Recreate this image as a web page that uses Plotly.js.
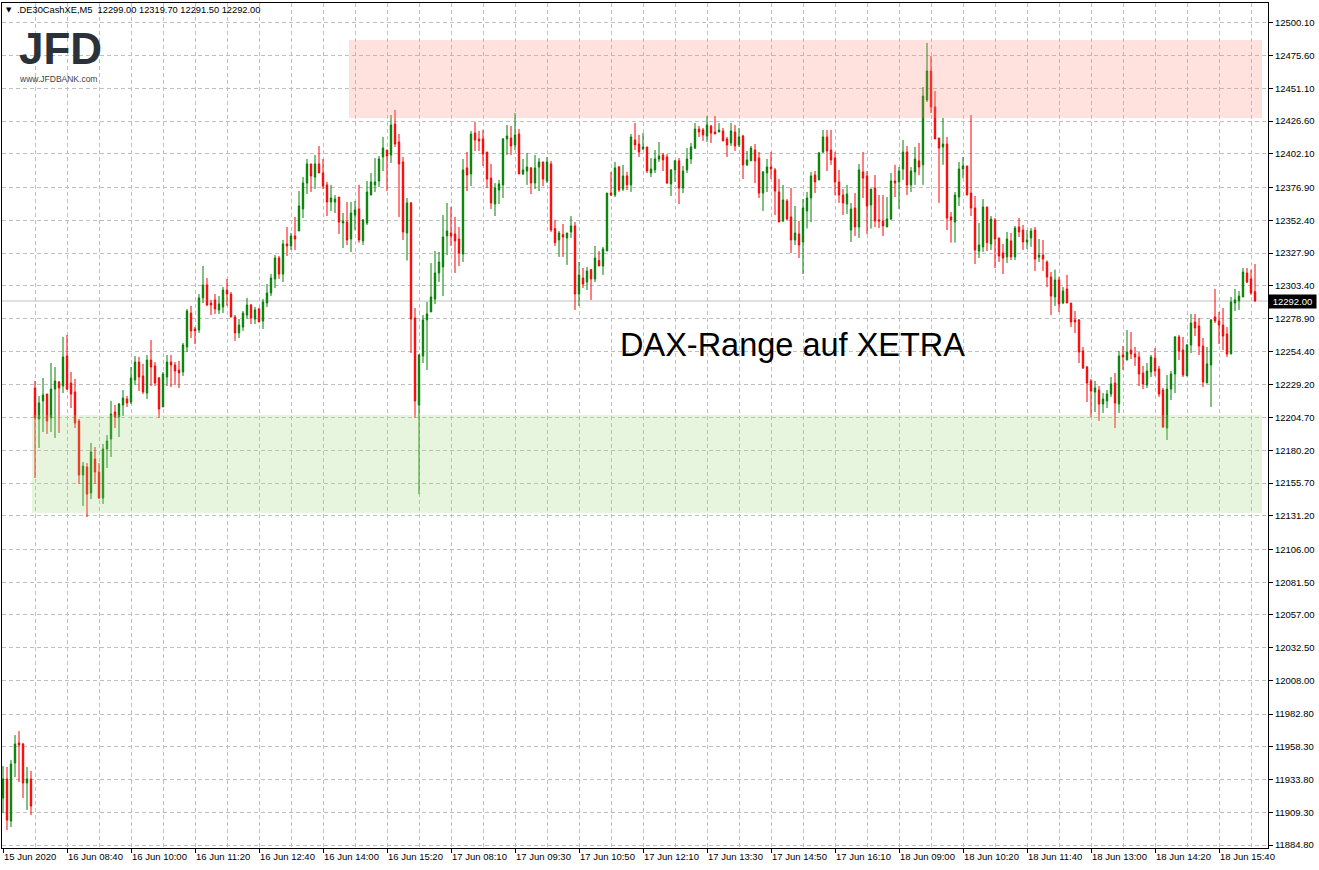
<!DOCTYPE html>
<html>
<head>
<meta charset="utf-8">
<script src="https://cdn.plot.ly/plotly-3.0.1.min.js"></script>
<style>html,body{margin:0;padding:0;background:#fff;}#chart{width:1319px;height:870px;}</style>
</head>
<body>
<div id="chart"></div>
<script>
// OHLC values of the M5 bars
const openP = [
11920.0,11934.2,11902.8,11946.2,11961.2,11960.4,11931.2,11934.2,
12226.9,12203.7,12217.2,12222.4,12204.4,12226.1,12231.4,12228.4,12250.8,12230.6,12223.9,12202.2,
12161.8,12167.8,12148.3,12173.7,12164.0,12144.5,12181.2,12188.7,12208.9,12205.2,
12214.2,12218.6,12216.4,12232.9,12246.3,12235.9,12223.1,12247.8,12243.4,12234.4,
12212.7,12235.1,12246.3,12244.1,12240.4,12238.9,12257.6,12283.0,12271.0,12270.3,
12294.3,12304.0,12290.5,12292.8,12285.3,12287.5,12300.2,12297.2,12280.0,12268.1,
12272.5,12281.5,12289.0,12278.5,12286.0,12277.0,12290.5,12298.0,12308.5,12324.2,
12312.2,12334.7,12333.2,12340.7,12344.4,12360.9,12380.3,12394.6,12384.8,12394.6,
12387.8,12378.9,12366.1,12366.1,12369.8,12350.4,12351.1,12338.4,12356.4,12360.9,
12337.0,12350.4,12371.3,12378.9,12381.8,12399.8,12405.0,12401.3,12424.5,12411.0,
12396.1,12342.9,12365.4,12279.3,12214.2,12250.8,12277.8,12283.8,12293.5,12313.0,
12317.5,12340.7,12342.9,12342.2,12338.4,12327.2,12391.6,12387.1,12417.7,12413.3,
12413.3,12403.5,12384.0,12364.6,12375.1,12378.9,12413.3,12414.0,12408.8,12417.0,
12387.1,12389.3,12391.6,12380.3,12392.3,12396.1,12381.8,12394.6,12346.2,12337.7,
12341.7,12339.2,12343.7,12348.2,12297.2,12309.2,12306.2,12315.5,12308.5,12322.3,
12318.2,12329.4,12372.8,12371.3,12392.3,12375.8,12385.6,12378.9,12412.5,12409.5,
12405.8,12407.3,12387.8,12390.1,12398.3,12401.3,12399.8,12379.6,12390.1,12396.9,
12376.6,12390.1,12398.3,12406.5,12420.7,12420.0,12415.5,12423.0,12418.5,12418.5,
12419.3,12413.3,12410.3,12418.5,12408.8,12415.5,12393.9,12396.9,12405.0,12399.0,
12372.8,12387.8,12392.3,12390.1,12373.6,12351.9,12366.9,12354.9,12337.7,12342.2,
12336.2,12359.4,12369.1,12386.3,12382.6,12403.5,12414.8,12405.0,12399.0,12381.1,
12371.3,12364.6,12345.1,12361.6,12347.4,12388.6,12385.6,12363.9,12376.6,12352.7,
12351.9,12347.4,12353.4,12381.8,12381.1,12390.8,12403.5,12378.9,12388.6,12396.9,
12393.9,12442.5,12464.2,12437.2,12414.0,12407.3,12409.5,12354.9,12351.1,12369.8,
12390.8,12393.1,12372.8,12361.6,12329.4,12332.5,12362.4,12334.7,12352.7,12339.2,
12328.0,12325.0,12337.0,12325.0,12347.4,12345.1,12336.2,12339.2,12345.1,12324.9,
12326.4,12321.2,12310.0,12295.0,12307.7,12290.5,12301.0,12290.5,12277.8,12277.8,
12254.6,12242.6,12232.1,12223.9,12225.4,12214.9,12217.2,12222.4,12230.6,12214.9,
12251.6,12247.8,12255.3,12252.3,12250.1,12238.1,12229.1,12238.9,12249.3,12241.1,
12225.4,12196.9,12226.1,12237.4,12265.1,12255.3,12235.9,12259.1,12276.3,12273.3,
12258.3,12230.6,12244.1,12280.0,12277.0,12274.0,12267.3,12252.3,12290.5,12292.0,
12295.0,12313.0,12308.5,12299.0
];
const highP = [
11943.9,11943.2,11948.4,11967.1,11970.1,11961.2,11943.2,11940.2,
12232.1,12220.9,12234.4,12222.4,12245.6,12242.6,12232.1,12265.1,12266.6,12238.9,12233.6,12203.7,
12171.5,12170.7,12185.7,12182.7,12170.7,12185.0,12191.7,12217.2,12214.2,12215.7,
12225.4,12220.9,12242.6,12250.8,12250.1,12244.9,12251.6,12262.8,12246.3,12235.1,
12238.9,12251.6,12251.6,12246.3,12247.1,12260.6,12286.0,12288.3,12272.5,12297.2,
12318.2,12309.2,12292.8,12297.2,12295.7,12302.5,12308.5,12298.7,12281.5,12278.5,
12284.5,12294.3,12289.8,12287.5,12286.8,12293.5,12304.7,12312.2,12326.4,12325.7,
12337.7,12347.4,12342.9,12354.9,12374.3,12384.8,12398.3,12394.6,12401.3,12408.0,
12398.3,12381.1,12378.9,12371.3,12369.8,12357.9,12366.1,12366.1,12366.9,12378.9,
12353.4,12381.8,12387.8,12399.0,12400.5,12414.8,12405.0,12431.2,12435.0,12417.0,
12399.8,12369.1,12366.1,12286.8,12252.3,12281.5,12291.3,12320.4,12329.4,12328.7,
12356.4,12365.4,12362.4,12354.9,12347.4,12398.3,12403.5,12419.3,12426.0,12419.3,
12420.0,12403.5,12394.6,12380.3,12382.6,12414.0,12423.7,12423.0,12432.7,12420.7,
12398.3,12402.8,12392.3,12401.3,12399.0,12396.1,12399.8,12396.9,12352.7,12344.4,
12349.6,12342.9,12355.6,12351.1,12321.2,12316.7,12317.5,12315.5,12333.2,12329.4,
12332.5,12372.8,12388.6,12396.1,12393.1,12393.9,12388.6,12417.0,12425.2,12416.3,
12417.7,12407.3,12399.0,12405.0,12411.0,12402.8,12402.0,12390.8,12397.6,12399.0,
12393.1,12406.5,12410.3,12425.2,12423.0,12421.5,12430.5,12423.7,12430.5,12425.2,
12421.5,12414.8,12425.2,12423.7,12421.5,12416.3,12404.3,12408.0,12409.5,12403.5,
12389.3,12398.3,12403.5,12391.6,12383.3,12378.9,12368.3,12376.6,12363.1,12351.9,
12368.3,12373.6,12388.6,12389.3,12403.5,12420.0,12420.0,12420.0,12403.5,12390.1,
12375.8,12378.9,12365.4,12372.8,12394.6,12403.5,12389.3,12375.8,12386.3,12371.3,
12371.3,12369.8,12387.8,12393.9,12392.3,12412.5,12408.0,12392.3,12407.3,12410.3,
12452.2,12485.1,12475.4,12449.2,12414.0,12429.0,12414.8,12358.6,12373.6,12396.1,
12399.8,12393.1,12431.2,12370.6,12350.4,12368.3,12362.4,12355.6,12354.1,12339.2,
12334.7,12343.7,12342.9,12348.2,12354.1,12348.9,12345.1,12346.6,12347.4,12338.4,
12337.7,12322.3,12313.7,12315.5,12310.0,12302.5,12311.5,12290.5,12284.5,12278.5,
12257.6,12243.4,12233.6,12232.1,12228.4,12223.1,12225.4,12235.1,12238.1,12254.6,
12258.3,12270.3,12268.8,12257.6,12253.8,12243.4,12245.6,12251.6,12256.8,12243.4,
12226.9,12236.6,12239.6,12265.8,12266.6,12265.1,12259.8,12282.3,12282.3,12279.3,
12264.3,12257.6,12278.5,12301.0,12283.8,12286.8,12272.5,12295.0,12301.0,12299.5,
12316.7,12316.7,12315.5,12319.7
];
const lowP = [
11908.8,11896.0,11898.3,11935.7,11932.0,11920.0,11911.0,11907.3,
12159.5,12182.0,12194.0,12192.5,12194.0,12189.5,12193.2,12223.1,12225.4,12211.9,12196.9,12155.0,
12138.6,12130.3,12143.8,12155.0,12143.8,12140.1,12167.0,12175.2,12196.9,12190.2,
12205.9,12212.7,12214.9,12229.1,12224.6,12222.4,12218.6,12228.4,12228.4,12204.4,
12212.7,12228.4,12227.6,12229.1,12226.9,12235.9,12253.8,12264.3,12259.8,12268.1,
12290.5,12288.3,12281.5,12282.3,12282.3,12283.0,12288.3,12280.0,12262.1,12264.3,
12269.6,12278.5,12274.8,12274.8,12276.3,12271.0,12287.5,12295.7,12301.7,12308.5,
12306.2,12325.7,12330.2,12330.2,12344.4,12354.1,12372.1,12373.6,12375.8,12387.8,
12375.8,12355.6,12359.4,12357.9,12342.2,12331.7,12333.9,12328.7,12345.1,12335.7,
12333.9,12348.9,12371.3,12373.6,12377.3,12389.3,12374.3,12395.3,12407.3,12354.9,
12337.7,12322.3,12253.1,12204.4,12147.5,12245.6,12240.4,12283.8,12289.8,12306.2,
12295.7,12326.4,12333.2,12313.0,12318.2,12321.2,12374.3,12378.1,12404.3,12404.3,
12393.1,12376.6,12360.9,12355.6,12364.6,12369.1,12401.3,12401.3,12405.0,12387.1,
12386.3,12378.9,12372.1,12375.8,12374.3,12378.1,12380.3,12343.7,12333.2,12325.0,
12325.0,12319.0,12339.2,12285.3,12288.3,12301.7,12300.2,12292.8,12306.2,12318.2,
12311.5,12329.4,12370.6,12369.8,12373.6,12374.3,12375.1,12373.6,12405.0,12399.8,
12405.0,12387.8,12384.8,12387.8,12396.1,12389.3,12379.6,12370.6,12381.1,12364.6,
12372.8,12387.8,12394.6,12405.8,12414.8,12411.8,12411.0,12410.3,12417.0,12418.5,
12411.8,12399.8,12408.0,12404.3,12407.3,12383.3,12393.1,12396.9,12380.3,12369.1,
12359.4,12373.6,12383.3,12356.4,12351.1,12351.1,12352.7,12328.0,12333.9,12324.2,
12312.2,12346.2,12351.1,12372.8,12382.6,12402.8,12389.3,12393.9,12371.3,12365.4,
12356.4,12357.1,12336.2,12340.7,12339.2,12369.1,12342.2,12346.2,12347.4,12346.6,
12340.7,12347.4,12352.7,12369.8,12360.9,12382.6,12371.3,12373.6,12378.9,12386.3,
12378.9,12441.0,12432.7,12413.3,12365.4,12393.9,12345.1,12335.7,12335.7,12363.1,
12384.0,12371.3,12355.6,12319.7,12324.2,12328.7,12329.4,12330.2,12316.7,12321.2,
12312.2,12320.4,12322.7,12322.7,12339.9,12330.2,12331.0,12332.5,12314.5,12321.2,
12314.5,12302.5,12281.5,12288.3,12283.8,12289.8,12290.5,12272.5,12268.1,12245.6,
12241.1,12216.4,12205.2,12208.9,12202.2,12208.2,12211.9,12220.2,12196.9,12208.2,
12240.4,12247.8,12248.6,12243.4,12228.4,12226.1,12226.9,12235.1,12235.9,12220.2,
12196.9,12188.0,12217.9,12223.1,12247.8,12235.1,12235.9,12253.1,12265.8,12251.6,
12227.6,12230.6,12212.7,12275.5,12259.8,12255.3,12250.1,12252.3,12284.5,12285.3,
12295.0,12305.5,12296.4,12291.5
];
const closeP = [
11934.2,11903.5,11945.4,11960.4,11959.7,11931.2,11934.2,11914.0,
12204.4,12215.7,12221.6,12202.2,12226.1,12232.1,12226.9,12250.1,12226.1,12222.4,12200.7,12161.8,
12168.5,12147.5,12179.0,12164.0,12144.5,12181.2,12187.2,12207.4,12205.2,12214.9,
12219.4,12215.7,12234.4,12246.3,12235.1,12223.9,12247.8,12242.6,12230.6,12211.2,
12237.4,12246.3,12244.1,12239.6,12238.1,12259.1,12284.5,12269.6,12269.6,12294.3,
12304.0,12289.0,12289.0,12286.0,12289.8,12300.2,12297.2,12280.0,12268.1,12274.0,
12283.0,12289.0,12279.3,12285.3,12276.3,12291.3,12298.0,12309.2,12324.2,12312.2,
12334.7,12333.2,12340.7,12338.4,12363.1,12380.3,12394.6,12385.6,12394.6,12387.8,
12378.1,12366.1,12369.1,12368.3,12351.1,12351.9,12337.7,12357.9,12360.1,12337.7,
12352.7,12373.6,12381.1,12381.1,12398.3,12406.5,12400.5,12423.7,12409.5,12394.6,
12343.7,12365.4,12278.5,12217.2,12251.6,12277.8,12282.3,12295.0,12313.0,12321.2,
12339.9,12344.4,12340.7,12337.0,12328.0,12390.1,12386.3,12417.0,12412.5,12411.8,
12402.0,12383.3,12365.4,12376.6,12379.6,12413.3,12415.5,12408.0,12416.3,12387.1,
12390.1,12392.3,12380.3,12391.6,12396.1,12383.3,12396.1,12345.1,12335.7,12342.9,
12339.9,12342.9,12348.2,12297.2,12311.5,12304.7,12314.5,12308.5,12324.2,12318.2,
12331.0,12372.8,12371.3,12391.6,12375.1,12385.6,12378.9,12414.8,12408.8,12403.5,
12407.3,12389.3,12390.8,12398.3,12400.5,12397.6,12380.3,12390.1,12396.9,12376.6,
12389.3,12398.3,12407.3,12420.7,12418.5,12416.3,12423.7,12417.7,12417.0,12420.0,
12411.8,12408.8,12419.3,12408.0,12414.8,12393.9,12397.6,12406.5,12396.9,12372.8,
12388.6,12392.3,12390.8,12374.3,12351.1,12367.6,12353.4,12337.7,12342.9,12333.9,
12361.6,12369.1,12385.6,12381.1,12402.8,12414.8,12404.3,12397.6,12381.1,12371.3,
12365.4,12372.1,12360.9,12347.4,12390.1,12384.0,12363.1,12375.8,12351.9,12351.9,
12348.2,12353.4,12381.8,12380.3,12389.3,12403.5,12378.9,12389.3,12398.3,12392.3,
12445.4,12464.2,12437.2,12413.3,12406.5,12409.5,12354.1,12352.7,12371.3,12390.8,
12393.1,12371.3,12361.6,12330.2,12333.9,12362.4,12335.7,12353.4,12338.4,12325.7,
12324.2,12338.4,12325.0,12346.6,12343.7,12336.2,12337.7,12344.4,12323.4,12326.4,
12323.4,12310.0,12295.7,12307.7,12289.8,12299.5,12290.5,12276.3,12276.3,12253.8,
12241.9,12230.6,12224.6,12226.9,12214.9,12218.6,12222.4,12229.9,12215.7,12250.8,
12250.1,12253.8,12252.3,12250.1,12237.4,12229.9,12239.6,12250.1,12239.6,12222.4,
12197.7,12226.1,12237.4,12265.1,12254.6,12236.6,12259.1,12275.5,12271.8,12258.3,
12231.4,12244.9,12277.8,12277.0,12274.0,12265.8,12252.3,12291.3,12292.8,12295.7,
12313.7,12306.2,12298.0,12292.0
];
// time-axis labels, one every 16 bars
const timeLabels = ['15 Jun 2020','16 Jun 08:40','16 Jun 10:00','16 Jun 11:20','16 Jun 12:40',
  '16 Jun 14:00','16 Jun 15:20','17 Jun 08:10','17 Jun 09:30','17 Jun 10:50','17 Jun 12:10',
  '17 Jun 13:30','17 Jun 14:50','17 Jun 16:10','18 Jun 09:00','18 Jun 10:20','18 Jun 11:40',
  '18 Jun 13:00','18 Jun 14:20','18 Jun 15:40'];
// price-axis labels
const priceTicks = [12500.10,12475.60,12451.10,12426.60,12402.10,12376.90,12352.40,12327.90,
  12303.40,12278.90,12254.40,12229.20,12204.70,12180.20,12155.70,12131.20,12106.00,12081.50,
  12057.00,12032.50,12008.00,11982.80,11958.30,11933.80,11909.30,11884.80];
const lastPrice = 12292.00;
const headerText = '.DE30CashXE,M5\u00a0\u00a012299.00 12319.70 12291.50 12292.00';
// zones: [from bar, to bar], [low price, high price]
const resistanceBars = [86.5, 314.75];
const resistancePrices = [12429.0, 12487.4];
const supportBars = [7.25, 314.75];
const supportPrices = [12133.3, 12206.7];

const barIndex = openP.map((_, i) => i);
const labelPos = timeLabels.map((_, k) => k * 16);

const gridCol = '#c0c0c0';
const font = 'Liberation Sans, Arial, sans-serif';

const trace = {
  type: 'candlestick',
  x: barIndex, open: openP, high: highP, low: lowP, close: closeP,
  increasing: {line: {color: '#008000', width: 1}, fillcolor: '#008000'},
  decreasing: {line: {color: '#ff0000', width: 1}, fillcolor: '#ff0000'},
  whiskerwidth: 0,
  hoverinfo: 'skip'
};

const layout = {
  width: 1319, height: 870,
  margin: {l: 2, r: 51, t: 3, b: 22, pad: 0},
  paper_bgcolor: '#ffffff', plot_bgcolor: '#ffffff',
  showlegend: false,
  boxgap: 0.5,
  font: {family: font, size: 9.5, color: '#000'},
  xaxis: {
    type: 'linear', range: [-0.25, 316.25], fixedrange: true,
    rangeslider: {visible: false},
    tickmode: 'array', tickvals: labelPos, ticktext: timeLabels,
    ticks: 'outside', ticklen: 4, tickcolor: '#000', tickwidth: 1,
    ticklabelposition: 'outside right',
    tickfont: {family: font, size: 9.5, color: '#000'},
    showgrid: true, gridcolor: gridCol, gridwidth: 1, griddash: '4px,3px',
    minor: {tickmode: 'linear', tick0: 8, dtick: 16, showgrid: true,
            gridcolor: gridCol, gridwidth: 1, griddash: '4px,3px', ticks: ''},
    showline: true, linecolor: '#000', linewidth: 1, mirror: true, zeroline: false
  },
  yaxis: {
    side: 'right', range: [11882.57, 12515.05], fixedrange: true,
    tickmode: 'array', tickvals: priceTicks, tickformat: '.2f',
    ticks: 'outside', ticklen: 4, tickcolor: '#000', tickwidth: 1,
    tickfont: {family: font, size: 9.5, color: '#000'},
    showgrid: true, gridcolor: gridCol, gridwidth: 1, griddash: '4px,3px',
    showline: true, linecolor: '#000', linewidth: 1, mirror: true, zeroline: false
  },
  shapes: [
    {type: 'line', xref: 'paper', x0: 0, x1: 1, yref: 'y', y0: lastPrice, y1: lastPrice,
     line: {color: '#c0c0c0', width: 1}, layer: 'below'},
    {type: 'rect', xref: 'x', yref: 'y', x0: resistanceBars[0], x1: resistanceBars[1],
     y0: resistancePrices[0], y1: resistancePrices[1],
     fillcolor: 'rgba(255,140,125,0.25)', line: {width: 0}, layer: 'above'},
    {type: 'rect', xref: 'x', yref: 'y', x0: supportBars[0], x1: supportBars[1],
     y0: supportPrices[0], y1: supportPrices[1],
     fillcolor: 'rgba(163,215,123,0.25)', line: {width: 0}, layer: 'above'}
  ],
  annotations: [
    {xref: 'paper', yref: 'paper', x: 0.00592, y: 0.99172, xanchor: 'center', yanchor: 'middle',
     text: '▼', showarrow: false, font: {family: 'DejaVu Sans', size: 7, color: '#000'}},
    {xref: 'paper', yref: 'paper', x: 0.01027, y: 0.99172, xanchor: 'left', yanchor: 'middle',
     text: headerText, showarrow: false, font: {family: font, size: 9.3, color: '#000'}},
    // logo
    {xref: 'paper', yref: 'paper', x: 0.01185, y: 0.94580, xanchor: 'left', yanchor: 'middle',
     text: '<b>JFD</b>', showarrow: false, font: {family: font, size: 44, color: '#2b3139'}},
    {xref: 'paper', yref: 'paper', x: 0.01185, y: 0.91000, xanchor: 'left', yanchor: 'middle',
     text: 'www.JFDBANK.com', showarrow: false, font: {family: font, size: 8.5, color: '#3d4148'}},
    {xref: 'paper', yref: 'paper', x: 0.62441, y: 0.59527, xanchor: 'center', yanchor: 'middle',
     text: 'DAX-Range auf XETRA', showarrow: false, font: {family: font, size: 32.5, color: '#000'}},
    {xref: 'paper', yref: 'y', x: 1, y: lastPrice, xanchor: 'left', yanchor: 'middle',
     text: '\u00a0' + lastPrice.toFixed(2) + '\u00a0', showarrow: false, bgcolor: '#000000',
     borderpad: 1, font: {family: font, size: 9.5, color: '#ffffff'}}
  ]
};

Plotly.newPlot('chart', [trace], layout, {staticPlot: true, displayModeBar: false});
</script>
</body>
</html>
